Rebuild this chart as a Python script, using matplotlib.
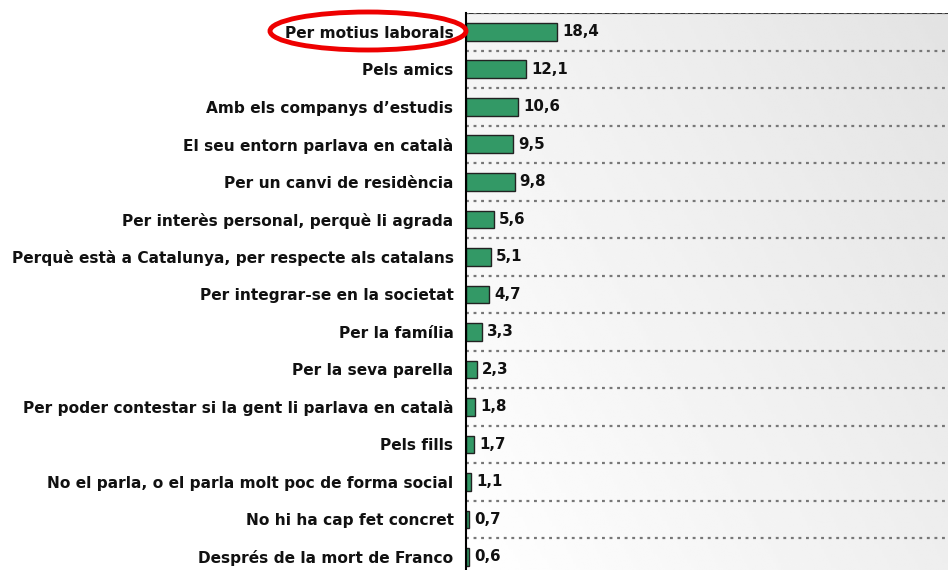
import matplotlib
matplotlib.use("Agg")
import matplotlib.pyplot as plt
import numpy as np
from matplotlib.patches import Ellipse

categories = [
    "Per motius laborals",
    "Pels amics",
    "Amb els companys d’estudis",
    "El seu entorn parlava en català",
    "Per un canvi de residència",
    "Per interès personal, perquè li agrada",
    "Perquè està a Catalunya, per respecte als catalans",
    "Per integrar-se en la societat",
    "Per la família",
    "Per la seva parella",
    "Per poder contestar si la gent li parlava en català",
    "Pels fills",
    "No el parla, o el parla molt poc de forma social",
    "No hi ha cap fet concret",
    "Després de la mort de Franco",
]
values = [18.4, 12.1, 10.6, 9.5, 9.8, 5.6, 5.1, 4.7, 3.3, 2.3, 1.8, 1.7, 1.1, 0.7, 0.6]
value_labels = ["18,4", "12,1", "10,6", "9,5", "9,8", "5,6", "5,1", "4,7", "3,3", "2,3",
                "1,8", "1,7", "1,1", "0,7", "0,6"]

plt.rcParams['font.family'] = ['DejaVu Sans']

W, H = 948, 570
fig = plt.figure(figsize=(W/100, H/100), dpi=100)
left = 466 / W
top = 13 / H
ax = fig.add_axes([left, 0, 1 - left, 1 - top])

n = len(categories)
xmax = (W - 466) / 4.95
ymax_idx = (570 - 31) / 37.57
ax.set_xlim(0, xmax)
ax.set_ylim(ymax_idx, -0.5)

# gradient background
gx = np.linspace(0, 1, 200)
gy = np.linspace(0, 1, 120)
GX, GY = np.meshgrid(gx, gy)
g = 0.6 * GX + 0.4 * (1 - GY)
img = 1.0 - 0.11 * g
ax.imshow(img, cmap='gray', vmin=0, vmax=1, aspect='auto',
          extent=[0, xmax, ymax_idx, -0.5], origin='upper', zorder=0,
          interpolation='bilinear')

y = np.arange(n)
ax.barh(y, values, height=0.47, color='#339966', edgecolor='#222222',
        linewidth=1.0, zorder=3)

for i in range(n - 1):
    ax.axhline(i + 0.5, color='#777777', linestyle=(0, (1.3, 2.1)), linewidth=1.6, zorder=1)
ax.axhline(-0.5, color='#333333', linewidth=1.5, zorder=2)
ax.axhline(-0.5, color='#777777', linestyle=(0, (1.3, 2.1)), linewidth=1.6, zorder=2.5)

for yi, v, lab in zip(y, values, value_labels):
    ax.text(v + 1.0, yi, lab, va='center', ha='left', fontsize=10.8,
            fontweight='bold', color='#111111', zorder=4)

ax.set_yticks(y)
ax.set_yticklabels(categories, fontsize=11.1, fontweight='bold', color='#111111')
ax.tick_params(axis='y', length=0, pad=9)
ax.set_xticks([])
for s in ['top', 'right', 'bottom']:
    ax.spines[s].set_visible(False)
ax.spines['left'].set_color('black')
ax.spines['left'].set_linewidth(1.5)
ax.spines['left'].set_zorder(5)

# red ellipse around first label
e = Ellipse((368 / W, 1 - 31 / H), width=196 / W, height=38 / H,
            transform=fig.transFigure, fill=False, edgecolor='#ee0000',
            linewidth=3.5, clip_on=False, zorder=10)
fig.patches.append(e)

fig.savefig("out.png", dpi=100)
